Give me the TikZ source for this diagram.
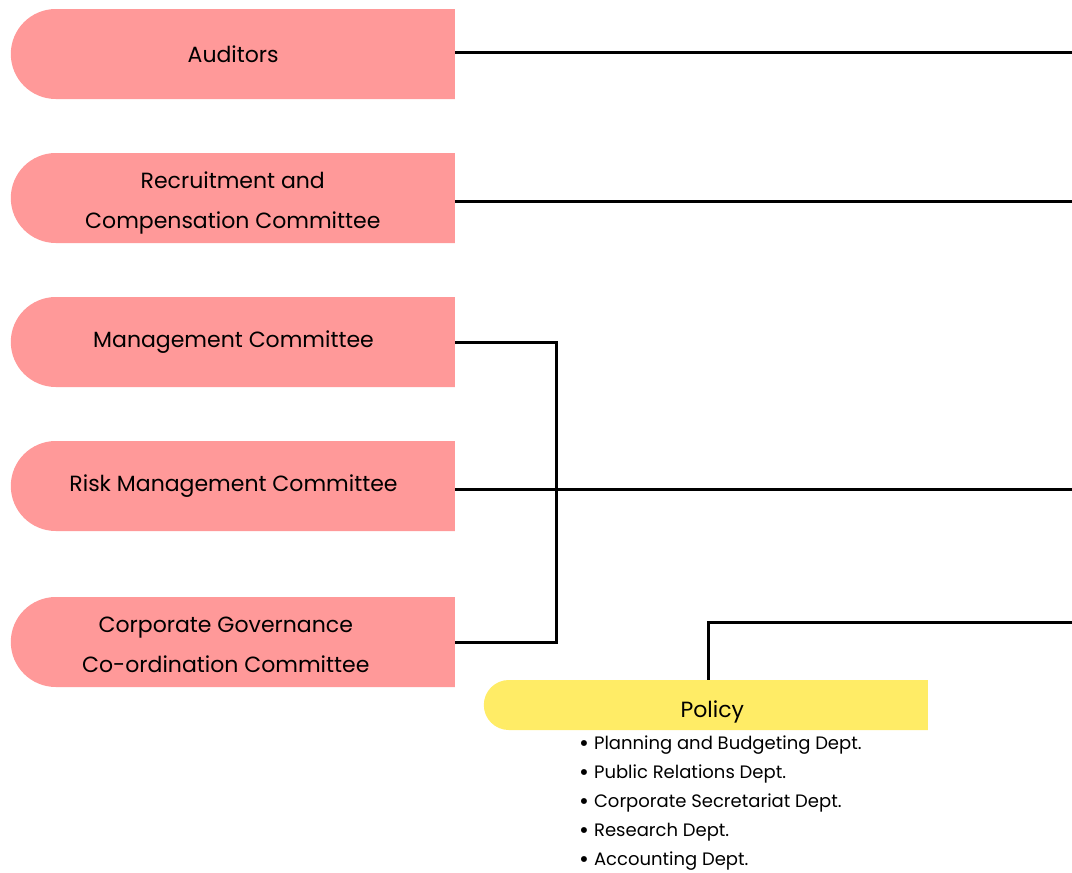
\documentclass[tikz,border=0pt]{standalone}
\usepackage{fontspec}
\setmainfont{Poppins}
\definecolor{boardpink}{RGB}{255,153,153}
\definecolor{policyyellow}{RGB}{255,236,102}
\usepackage{tikz}
\usetikzlibrary{positioning, shapes.misc}

\newcommand{\twolines}[3]{\hspace*{#1}\raisebox{#2}[0pt][0pt]{\parbox{300pt}{\centering #3}}}
\newcommand{\deptitem}{\raisebox{-1.5pt}[0pt][0pt]{\fontsize{24}{0}\selectfont\textbullet}\hspace{5pt}}

\begin{document}
\begin{tikzpicture}[x=1pt, y=-1pt,
    committee/.style={rounded rectangle, rounded rectangle right arc=none, fill=boardpink,
      minimum width=444pt, minimum height=90pt, inner sep=0pt, anchor=east,
      font=\fontsize{22}{40}\selectfont},
    unit/.style={rounded rectangle, rounded rectangle right arc=none, fill=policyyellow,
      minimum width=444pt, minimum height=50pt, inner sep=0pt, anchor=east,
      text height=24pt, text depth=0pt, font=\fontsize{22}{26}\selectfont},
    link/.style={line width=3pt}]
    \useasboundingbox (0,0) rectangle (1072,873);

    \node[committee] (auditors) at (455,54) {Auditors};
    \node[committee] (recruit)  at (455,198) {\twolines{0pt}{-10.5pt}{Recruitment and\\Compensation Committee}};
    \node[committee] (mgmt)     at (455,342) {Management Committee};
    \node[committee] (risk)     at (455,486) {Risk Management Committee};
    \node[committee] (cgcc)     at (455,642) {\twolines{-14pt}{-8.5pt}{Corporate Governance\\Co-ordination Committee}};

    \node[unit] (policy) at (928,705) {\hspace*{10pt}Policy};
    \node[anchor=north west, inner sep=0pt, align=left, font=\fontsize{18}{29}\selectfont]
      (policylist) at (579,736) {%
        \deptitem Planning and Budgeting Dept.\\
        \deptitem Public Relations Dept.\\
        \deptitem Corporate Secretariat Dept.\\
        \deptitem Research Dept.\\
        \deptitem Accounting Dept.};

    \coordinate (e1) at (1072,52);
    \coordinate (e2) at (1072,201);
    \coordinate (e3) at (1072,489);
    \coordinate (e4) at (1072,622);
    \coordinate (bus) at (556,342);

    \draw[link] (auditors.east |- e1) -- (e1);
    \draw[link] (recruit.east |- e2) -- (e2);
    \draw[link] (risk.east |- e3) -- (e3);
    \draw[link] (mgmt.east) -- (bus) |- (cgcc.east);
    \draw[link] (policy.north -| 708,0) |- (e4);
\end{tikzpicture}
\end{document}
